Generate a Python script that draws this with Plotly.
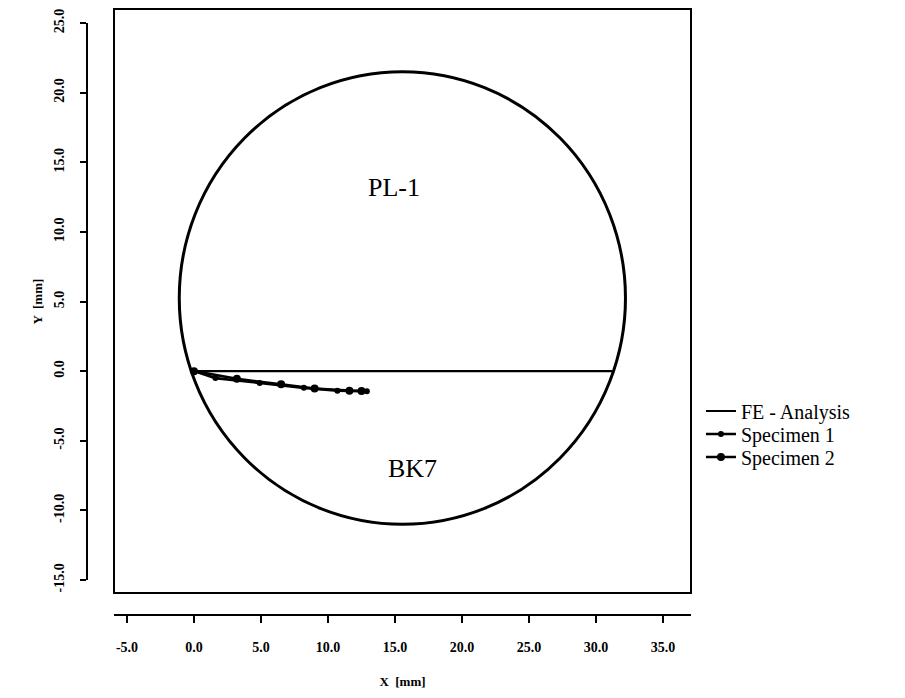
import plotly.graph_objects as go

# ---- data (mm) ----
fe_x = [0.0, 31.2]
fe_y = [0.0, 0.0]

spec1_x = [0.0, 1.6, 4.9, 8.2, 10.7, 12.9]
spec1_y = [0.0, -0.5, -0.85, -1.2, -1.4, -1.45]

spec2_x = [0.0, 3.2, 6.5, 9.0, 11.6, 12.5]
spec2_y = [0.0, -0.55, -0.95, -1.25, -1.4, -1.42]

# specimen outline (bounding box of the disc, mm)
disc_x = [-1.1, 32.2]
disc_y = [-11.0, 21.5]

region_labels = ["PL-1", "BK7"]
region_x = [14.9, 16.3]
region_y = [13.2, -7.0]

x_ticks = [-5, 0, 5, 10, 15, 20, 25, 30, 35]
x_tick_text = ["-5.0", "0.0", "5.0", "10.0", "15.0", "20.0", "25.0", "30.0", "35.0"]
y_ticks = [-15, -10, -5, 0, 5, 10, 15, 20, 25]
y_tick_text = ["-15.0", "-10.0", "-5.0", "0.0", "5.0", "10.0", "15.0", "20.0", "25.0"]

SERIF = "Liberation Serif"

fig = go.Figure()
fig.add_trace(go.Scatter(x=fe_x, y=fe_y, mode="lines", name="FE - Analysis",
                         line=dict(color="black", width=2.2), legend="legend"))
fig.add_trace(go.Scatter(x=spec1_x, y=spec1_y, mode="lines+markers", name="Specimen 1",
                         line=dict(color="black", width=2.6),
                         marker=dict(color="black", size=6), legend="legend2"))
fig.add_trace(go.Scatter(x=spec2_x, y=spec2_y, mode="lines+markers", name="Specimen 2",
                         line=dict(color="black", width=2.6),
                         marker=dict(color="black", size=8), legend="legend3"))

fig.add_shape(type="circle", xref="x", yref="y",
              x0=disc_x[0], x1=disc_x[1], y0=disc_y[0], y1=disc_y[1],
              line=dict(color="black", width=3), layer="below")

# frame around the plot area
fig.add_shape(type="rect", xref="paper", yref="paper",
              x0=0.0447, x1=1.0, y0=0.0372, y1=1.0236,
              line=dict(color="black", width=2))

for t, xx, yy in zip(region_labels, region_x, region_y):
    fig.add_annotation(x=xx, y=yy, xref="x", yref="y", text=t, showarrow=False,
                       font=dict(family=SERIF, size=26, color="black"))

tickfont = dict(family=SERIF, size=14, color="black", weight="bold")
titlefont = dict(family=SERIF, size=13, color="black", weight="bold")
legfont = dict(family=SERIF, size=20, color="black")


def leg(ypos):
    return dict(x=1.0165, y=ypos, xanchor="left", yanchor="middle", font=legfont,
                itemwidth=30, bgcolor="rgba(0,0,0,0)", borderwidth=0,
                tracegroupgap=0)


fig.update_layout(
    width=905, height=698,
    margin=dict(l=79, r=222, t=15, b=91, autoexpand=False),
    paper_bgcolor="white", plot_bgcolor="white",
    showlegend=True,
    legend=leg(0.3446),
    legend2=leg(0.3057),
    legend3=leg(0.2669),
    xaxis=dict(domain=[0.0447, 1.0], range=[-5.97, 37.09], anchor="free", position=0,
               automargin=False,
               showgrid=False, zeroline=False, showline=True, linecolor="black", linewidth=2,
               ticks="outside", ticklen=7, tickwidth=2, tickcolor="black",
               ticklabelstandoff=12,
               tickvals=x_ticks, ticktext=x_tick_text, tickfont=tickfont,
               title=dict(text="X  [mm]", font=titlefont, standoff=22)),
    yaxis=dict(domain=[0.0591, 1.0], range=[-15, 25], anchor="free", position=0,
               automargin=False,
               showgrid=False, zeroline=False, showline=True, linecolor="black", linewidth=2,
               ticks="outside", ticklen=6, tickwidth=2, tickcolor="black",
               ticklabelstandoff=10,
               tickvals=y_ticks, ticktext=y_tick_text, tickangle=-90, tickfont=tickfont,
               title=dict(text="Y  [mm]", font=titlefont, standoff=6)),
)

fig.write_html("out.html")
